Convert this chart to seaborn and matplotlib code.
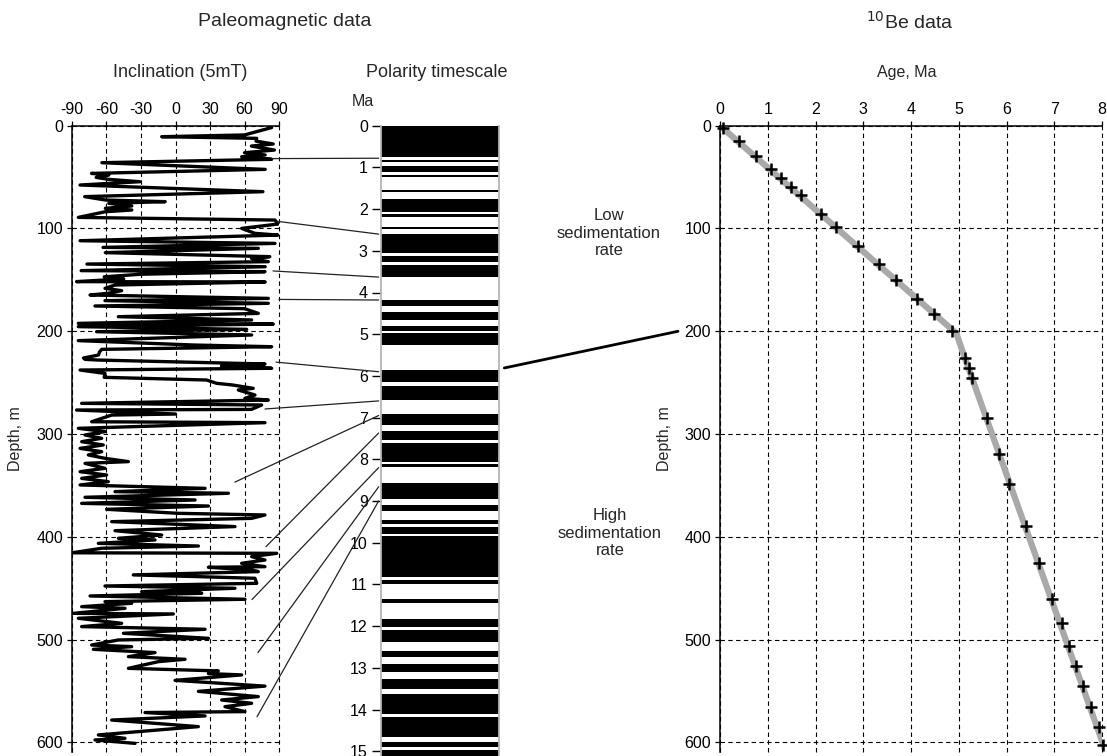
import numpy as np
import pandas as pd
import matplotlib
matplotlib.use("Agg")
import matplotlib.pyplot as plt
from matplotlib.patches import ConnectionPatch
import seaborn as sns

# ---------------- data ----------------
incl_depth = [0.3, 1.8, 9, 10.7, 12.3, 15, 17.8, 19.8, 23.7, 26.3, 28.5, 30.2, 32.7, 36, 42.5,
              46.4, 48, 50.3, 52.2, 54.5, 57.7, 64.2, 69, 72.3, 73.9, 75.5, 78.1, 80.4, 82, 83.7,
              89.2, 91.8, 95.7, 99.9, 104.7, 106.4, 111.9, 114.5, 118.4, 119.3, 123.5, 127.4, 129,
              132.3, 134.6, 137.2, 141, 142, 144.5, 147, 149, 151.7, 152, 155, 158.2, 160.5, 163,
              164.7, 168, 170.2, 172.8, 175.4, 178, 182.6, 185.8, 189, 192.3, 193, 195.5, 198.1,
              200.4, 203.6, 209.1, 213.4, 215, 217.6, 220, 223.1, 226, 227.3, 228, 231.8, 233.8,
              236, 237.7, 241, 244.8, 247.4, 250.6, 252.3, 255.5, 257.1, 262, 265.2, 266.9, 270.1,
              271.7, 276, 276.6, 280.5, 281.5, 288, 288.9, 294.4, 297.6, 300.9, 304.1, 307.4, 310.6,
              313.9, 317.1, 320.3, 323.6, 326.8, 328.5, 333.3, 336.6, 339.8, 343.1, 346.3, 349.5,
              352.8, 356, 357.6, 361.5, 364.1, 367.4, 370, 373.2, 377.1, 378.7, 382, 385.2, 390,
              394, 398.2, 401.4, 403, 406.3, 408.9, 411.1, 415.5, 416, 419.2, 422.5, 425.7, 429,
              429.6, 432.2, 433.8, 437, 438.7, 440.3, 445.2, 447.8, 450, 453.3, 454.9, 457.5,
              460.7, 463, 464.6, 467.9, 469.5, 474.4, 475, 479.2, 484.1, 487.3, 489.9, 493.8,
              498.7, 500.3, 505.2, 506.8, 509.4, 512.6, 516.5, 519.1, 521.4, 527.9, 530.4, 533,
              534.3, 539.6, 545.2, 550.3, 555.4, 558.7, 561.9, 565.2, 570, 570.9, 574.2, 578.2,
              584.6, 592.7, 596, 597.6, 600.9]
incl_value = [80.7, 83.6, 60, -12, 70.6, 70, 85, 66, 86, 60, 78, 57.5, 83.6, -64, 78,
              -73, -58, -69, -58, -31, -83, 76, -79, -61, -9, -58, -38, -61, -38, -61,
              -84.5, 86.5, 89, 57.5, 69, 89, -83, 86.5, -63, 72, -61, 82, 66,
              80.7, -77, 78, -82, 77.8, -30, -62, -45, -86, 78, -52.6, -61.3, -46.8, -58.4,
              -74.3, 80.7, -61.3, 80.7, -70, 60, 72, -49.7, 66.2, -84.5, 85, -84.5, 61.9,
              -68.6, 66.2, -84.5, 17, 83.6, -64.2, -66, -67, -80, -78.7, -67, 77.8, 40,
              83.6, -83, -61.3, -62, 27, 35.7, 50, 67.6, 54.6, 69.1, 60.4, 80.7, -81.6,
              74.9, 66, -86, 0, -55.5, -72.9, 77.8, -84.5, -61.3, -78.7, -64.2, -81.6, -62.8,
              -83, -64.2, -75.8, -61.3, -41, -78.7, -61.3, -83, -59.9, -81.6, -58.4, -83,
              25.7, -52.6, 46, -78.7, 17, -81.6, 28.6, -59.9, 2.5, 77.8, 66.2, -55.5, 51.7,
              -52.6, -12, -49.7, -17.8, -67.1, 19.9, -64.2, -90, 88, 66.2, 77.8, 57.5, 77.8,
              28.6, 66.2, 72, -36.7, 19.9, 69.1, 70.6, -61.3, 51.7, -29.4, 22.8, -74.3,
              60.4, -61.3, -38.1, -81.6, -43.9, -88.8, -1.9, -84.5, -46.8, -81.6, 25.7, -45.3,
              28.6, -49.7, -72.9, -38.1, -71.4, -17.8, -41, 8.3, -14.9, -41, 37.2, 28.6,
              57.5, -0.4, 77.8, 19.9, 72, 40.1, 66.2, 43, 60.4, -26.5, 25.7, -55.5,
              19.9, -67.1, -43.9, -70, -35.2]

# normal-polarity chrons (black) of the timescale, Ma
normal_top = [0.0, 0.823, 0.974, 1.182, 1.534, 1.766, 2.117, 2.42, 2.605, 3.125, 3.34, 4.172,
              4.468, 4.80, 4.963, 5.85, 6.25, 6.92, 7.32, 7.60, 8.11, 8.58, 9.10, 9.45, 9.62,
              9.85, 10.90, 11.36, 11.83, 12.09, 12.59, 12.92, 13.28, 13.64, 14.18, 14.78, 14.97]
normal_base = [0.758, 0.878, 1.102, 1.238, 1.59, 2.07, 2.18, 2.485, 3.06, 3.277, 3.62, 4.324,
               4.66, 4.915, 5.26, 6.14, 6.58, 7.18, 7.54, 8.06, 8.19, 8.96, 9.23, 9.54, 9.79,
               10.83, 11.0, 11.45, 12.03, 12.37, 12.73, 13.10, 13.51, 14.11, 14.65, 14.91, 15.2]

# tie points between inclination record and timescale
tie_incl = [83.9, 88.3, 84.8, 90, 87.4, 77.8, 51.7, 78.7, 66.5, 71.7, 70.9]
tie_depth = [32, 93, 141.3, 169, 230, 275.6, 346.7, 409.5, 461, 512.6, 575]
tie_age = [0.78, 2.6, 3.63, 4.18, 5.9, 6.6, 6.95, 7.37, 8.2, 8.66, 9.0]

# 10Be ages
be_age = [0.07, 0.39, 0.75, 1.06, 1.27, 1.48, 1.69, 2.11, 2.42, 2.90, 3.32, 3.68, 4.12, 4.49,
          4.85, 5.14, 5.21, 5.27, 5.59, 5.85, 6.06, 6.41, 6.68, 6.96, 7.16, 7.30, 7.45, 7.61,
          7.77, 7.93, 8.03]
be_depth = [2.5, 14.6, 29.6, 42.2, 51, 59.8, 67.9, 86.1, 98.5, 117.4, 135, 149.9, 168.7, 183,
            199.3, 225.6, 236, 245.5, 284.5, 319.6, 348.9, 389.6, 425.4, 460.5, 483.9, 505.7,
            525.2, 544.7, 565.2, 584.8, 602]
fit_age = [0, 4.95, 5.12, 8.05]
fit_depth = [0, 202, 225, 605]

x_ticks_incl = [-90, -60, -30, 0, 30, 60, 90]
depth_ticks = [0, 100, 200, 300, 400, 500, 600]
age_ticks = list(range(0, 16))
be_ticks = list(range(0, 9))

# ---------------- style ----------------
sns.set_theme(style="ticks")
plt.rcParams['font.family'] = ['Liberation Sans', 'DejaVu Sans']
plt.rcParams['axes.unicode_minus'] = False
plt.rcParams['axes.linewidth'] = 1.0
plt.rcParams['xtick.major.width'] = 0.9
plt.rcParams['ytick.major.width'] = 0.9

W, H = 1107, 756
fig = plt.figure(figsize=(W / 100, H / 100), dpi=100)

def fx(px):
    return px / W

def fy(py):
    return 1 - py / H

top_px, bot_px = 125.7, 751.7
ax_l = fig.add_axes([fx(72), fy(bot_px), fx(279 - 72), (bot_px - top_px) / H])
ax_t = fig.add_axes([fx(381), 0, fx(499 - 381), 1 - top_px / H])
ax_r = fig.add_axes([fx(720), fy(bot_px), fx(1102 - 720), (bot_px - top_px) / H])

grid_kw = dict(color='black', lw=0.8, ls=(0, (4, 3)))
TICK_FS = 11.5

def style_depth_axis(ax):
    for s in ['right', 'bottom']:
        ax.spines[s].set_visible(False)
    for s in ['top', 'left']:
        ax.spines[s].set_color('black')
        ax.spines[s].set_linewidth(1.1)
    ax.xaxis.tick_top()
    ax.tick_params(axis='both', direction='out', length=3.5, pad=3, labelsize=TICK_FS,
                   colors='black', top=True, bottom=False)
    ax.grid(True, **grid_kw)
    ax.set_axisbelow(True)
    for gl in ax.get_xgridlines() + ax.get_ygridlines():
        gl.set_clip_on(False)

# --- left: inclination ---
df_inc = pd.DataFrame({'incl': incl_value, 'depth': incl_depth})
sns.lineplot(data=df_inc, x='incl', y='depth', sort=False, estimator=None,
             color='black', lw=2.4, ax=ax_l)
ax_l.set_xlim(-90, 90)
ax_l.set_ylim(609, 0)
ax_l.set_xticks(x_ticks_incl)
ax_l.set_yticks(depth_ticks)
ax_l.set_xlabel('')
style_depth_axis(ax_l)
ax_l.set_ylabel('Depth, m', fontsize=11.5)
ax_l.yaxis.set_label_coords(-0.235, 0.5)

# --- middle: polarity timescale ---
nt = np.array(normal_top)
nb = np.array(normal_base)
ax_t.barh(y=(nt + nb) / 2, width=1, height=nb - nt, left=0, color='black', linewidth=0)
ax_t.set_xlim(0, 1)
ax_t.set_ylim((H - top_px) / 41.7, 0)
ax_t.set_yticks(age_ticks)
ax_t.set_xticks([])
for s in ['top', 'bottom']:
    ax_t.spines[s].set_visible(False)
for s in ['left', 'right']:
    ax_t.spines[s].set_color('#b5b5b5')
    ax_t.spines[s].set_linewidth(1.3)
ax_t.tick_params(axis='y', direction='out', length=6.5, width=1.0, pad=3, labelsize=TICK_FS,
                 colors='black')
ax_t.set_facecolor('white')

# --- right: 10Be ---
sns.lineplot(x=fit_age, y=fit_depth, sort=False, estimator=None, color='#a9a9a9', lw=4.5,
             ax=ax_r)
sns.scatterplot(x=be_age, y=be_depth, marker='+', s=75, color='black', linewidth=1.8,
                ax=ax_r, zorder=5, clip_on=False)
ax_r.set_xlim(0, 8)
ax_r.set_ylim(609, 0)
ax_r.set_xticks(be_ticks)
ax_r.set_yticks(depth_ticks)
style_depth_axis(ax_r)
ax_r.set_ylabel('Depth, m', fontsize=11.5)
ax_r.yaxis.set_label_coords(-0.126, 0.5)

# --- connectors ---
for inc, dep, age in zip(tie_incl, tie_depth, tie_age):
    con = ConnectionPatch(xyA=(inc, dep), coordsA=ax_l.transData,
                          xyB=(-0.02, age), coordsB=ax_t.transData,
                          color='#222222', lw=0.9)
    fig.add_artist(con)
con = ConnectionPatch(xyA=(1.045, 5.81), coordsA=ax_t.transData,
                      xyB=(-0.88, 200), coordsB=ax_r.transData,
                      color='black', lw=2.0)
fig.add_artist(con)

# --- texts ---
fig.text(fx(285), fy(22), 'Paleomagnetic data', ha='center', va='center', fontsize=14)
fig.text(fx(910), fy(22), r'$^{10}$Be data', ha='center', va='center', fontsize=14)
fig.text(fx(180), fy(72.5), 'Inclination (5mT)', ha='center', va='center', fontsize=13)
fig.text(fx(437), fy(72.5), 'Polarity timescale', ha='center', va='center', fontsize=13)
fig.text(fx(907), fy(72.5), 'Age, Ma', ha='center', va='center', fontsize=11.5)
fig.text(fx(363), fy(102), 'Ma', ha='center', va='center', fontsize=11.5)
fig.text(fx(609), fy(233), 'Low\nsedimentation\nrate', ha='center', va='center',
         fontsize=12, linespacing=1.2)
fig.text(fx(610), fy(533), 'High\nsedimentation\nrate', ha='center', va='center',
         fontsize=12, linespacing=1.2)

fig.savefig('out.png', dpi=100, facecolor='white')
